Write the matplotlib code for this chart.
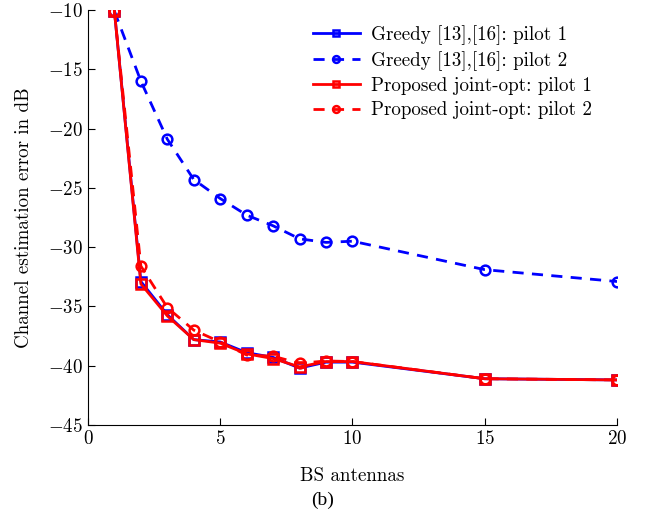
import matplotlib
matplotlib.use("Agg")
import matplotlib.pyplot as plt

plt.rcParams["font.family"] = ["cmr10", "DejaVu Serif"]
plt.rcParams["mathtext.fontset"] = "cm"
plt.rcParams["axes.formatter.use_mathtext"] = True

antennas = [1, 2, 3, 4, 5, 6, 7, 8, 9, 10, 15, 20]
greedy_p1 = [-10.1, -32.9, -35.7, -37.8, -38.0, -38.9, -39.3, -40.2, -39.7, -39.7, -41.1, -41.2]
greedy_p2 = [-10.1, -16.0, -20.9, -24.3, -25.9, -27.3, -28.2, -29.3, -29.6, -29.5, -31.9, -32.9]
joint_p1 = [-10.1, -33.1, -35.8, -37.8, -38.1, -39.0, -39.4, -40.1, -39.65, -39.65, -41.1, -41.2]
joint_p2 = [-10.1, -31.6, -35.1, -37.0, -38.0, -39.1, -39.2, -39.8, -39.6, -39.65, -41.1, -41.2]

fs = 13.7
fig = plt.figure(figsize=(6.45, 5.16), dpi=100, facecolor="white")
ax = fig.add_axes([0.1364, 0.1764, 0.8202, 0.8042])

kw = dict(lw=2, ms=7, mew=1.8, mfc="none")
ax.plot(antennas, greedy_p1, "s-", color="blue", label="Greedy [13],[16]: pilot 1", **kw)
ax.plot(antennas, greedy_p2, "o", ls=(0, (4, 3)), color="blue", label="Greedy [13],[16]: pilot 2", **kw)
ax.plot(antennas, joint_p1, "s-", color="red", label="Proposed joint-opt: pilot 1", **kw)
ax.plot(antennas, joint_p2, "o", ls=(0, (4, 3)), color="red", label="Proposed joint-opt: pilot 2", **kw)

ax.set_xlim(0, 20)
ax.set_ylim(-45, -10)
ax.set_xticks([0, 5, 10, 15, 20])
ax.set_yticks(range(-45, -9, 5))
for s in ("top", "right"):
    ax.spines[s].set_visible(False)
ax.tick_params(direction="in", length=5, labelsize=fs)
ax.set_xlabel("BS antennas", fontsize=fs, labelpad=14)
ax.set_ylabel("Channel estimation error in dB", fontsize=fs, labelpad=11)
ax.legend(loc="upper right", frameon=False, fontsize=fs, handlelength=2.5,
          handletextpad=0.55, markerscale=0.7, borderaxespad=0.6, labelspacing=0.33,
          bbox_to_anchor=(0.988, 1.01))
fig.text(0.5, 0.022, "(b)", family="Liberation Serif", fontsize=14, ha="center")

fig.savefig("out.png", dpi=100, facecolor="white")
